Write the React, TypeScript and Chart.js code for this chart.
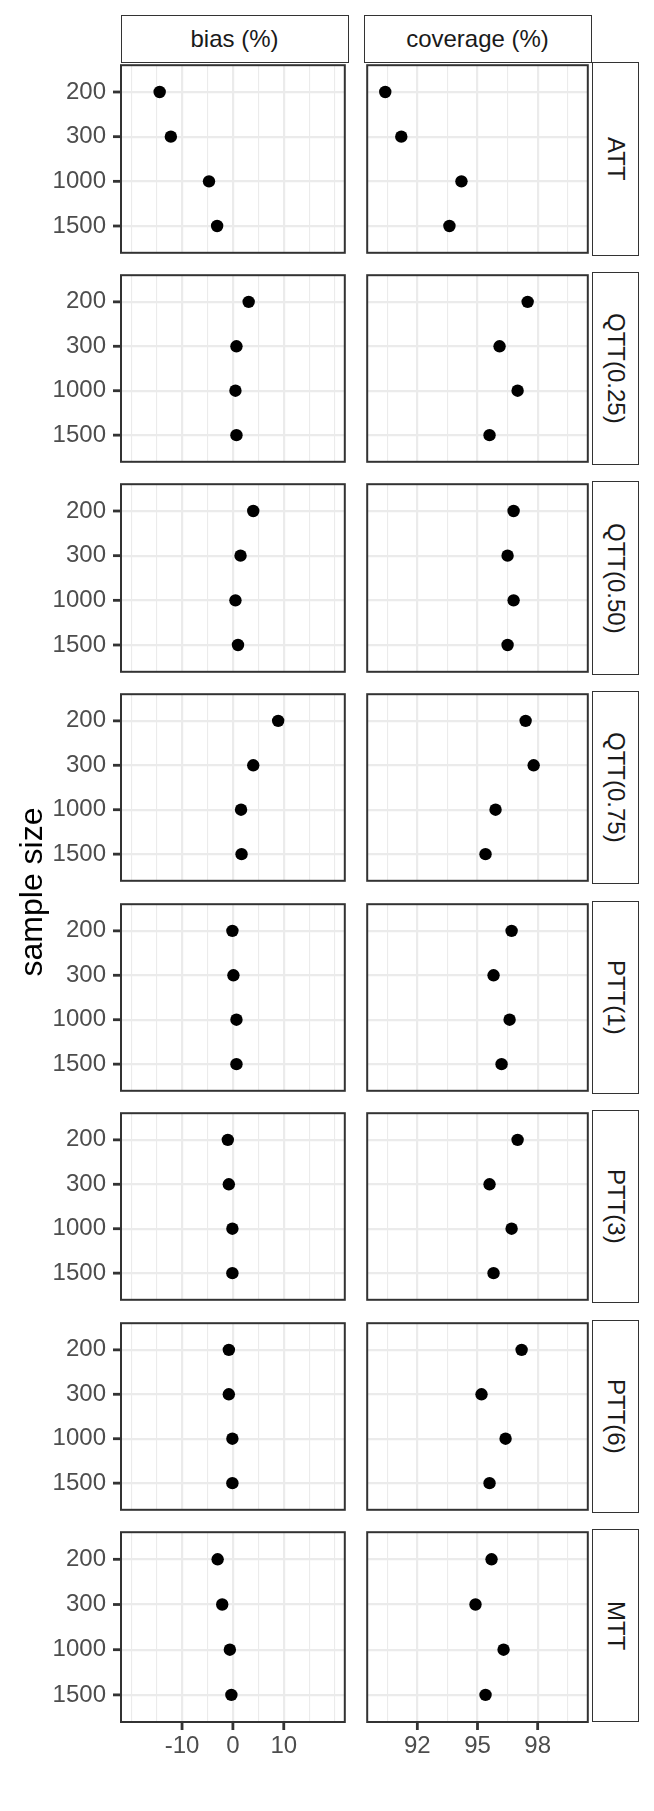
import React, { useEffect, useRef } from 'react';
import { Chart, registerables } from 'chart.js';

Chart.register(...registerables);

// ---------- data ----------
const sampleSizes = ['200', '300', '1000', '1500'];
const estimands = ['ATT', 'QTT(0.25)', 'QTT(0.50)', 'QTT(0.75)', 'PTT(1)', 'PTT(3)', 'PTT(6)', 'MTT'];
const metrics = ['bias (%)', 'coverage (%)'];

// bias (%) per estimand, in the order of sampleSizes
const biasATT = [-14.4, -12.2, -4.7, -3.1];
const biasQTT25 = [3.1, 0.7, 0.5, 0.7];
const biasQTT50 = [4.0, 1.5, 0.5, 1.0];
const biasQTT75 = [8.9, 4.0, 1.6, 1.7];
const biasPTT1 = [-0.1, 0.1, 0.7, 0.7];
const biasPTT3 = [-1.0, -0.8, -0.1, -0.1];
const biasPTT6 = [-0.8, -0.8, -0.1, -0.1];
const biasMTT = [-3.0, -2.1, -0.6, -0.3];

// coverage (%) per estimand, in the order of sampleSizes
const covATT = [90.4, 91.2, 94.2, 93.6];
const covQTT25 = [97.5, 96.1, 97.0, 95.6];
const covQTT50 = [96.8, 96.5, 96.8, 96.5];
const covQTT75 = [97.4, 97.8, 95.9, 95.4];
const covPTT1 = [96.7, 95.8, 96.6, 96.2];
const covPTT3 = [97.0, 95.6, 96.7, 95.8];
const covPTT6 = [97.2, 95.2, 96.4, 95.6];
const covMTT = [95.7, 94.9, 96.3, 95.4];

const biasValues = [biasATT, biasQTT25, biasQTT50, biasQTT75, biasPTT1, biasPTT3, biasPTT6, biasMTT];
const coverageValues = [covATT, covQTT25, covQTT50, covQTT75, covPTT1, covPTT3, covPTT6, covMTT];

// axis ticks
const biasGridTicks = [-20, -15, -10, -5, 0, 5, 10, 15, 20];
const biasTickLabels = [-10, 0, 10];
const coverageGridTicks = [90.5, 92, 93.5, 95, 96.5, 98, 99.5];
const coverageTickLabels = [92, 95, 98];
const biasLimits = [-22, 22];
const coverageLimits = [89.5, 100.5];

// ---------- layout ----------
const FONT = '"Liberation Sans", Arial, Helvetica, sans-serif';
const PANEL_LEFT = [121, 364];
const PANEL_W = 227;
const Y_AXIS_W = 121;
const X_AXIS_H = 50;
const PAD = 3;
const TICK_LEN = 8;
const rowTop = (r: number) => Math.round(62.3 + r * 209.57);
const rowBottom = (r: number) => Math.round(256 + r * 209.43);

function makeFramePlugin(showY: boolean, showX: boolean, xMajor: number[]) {
  return {
    id: 'panelFrame',
    afterDraw(chart: any) {
      const { ctx, chartArea, scales } = chart;
      const { left, top, right, bottom } = chartArea;
      ctx.save();
      ctx.strokeStyle = '#333333';
      ctx.lineWidth = 2.8;
      if (showY) {
        sampleSizes.forEach((_, i) => {
          const y = scales.y.getPixelForValue(i + 1);
          ctx.beginPath();
          ctx.moveTo(left - TICK_LEN, y);
          ctx.lineTo(left, y);
          ctx.stroke();
        });
      }
      if (showX) {
        xMajor.forEach((v) => {
          const x = scales.x.getPixelForValue(v);
          ctx.beginPath();
          ctx.moveTo(x, bottom);
          ctx.lineTo(x, bottom + TICK_LEN);
          ctx.stroke();
        });
      }
      ctx.lineWidth = 2;
      ctx.strokeRect(left, top, right - left, bottom - top);
      ctx.restore();
    },
  };
}

function Panel({ row, col }: { row: number; col: number }) {
  const ref = useRef<HTMLCanvasElement | null>(null);
  const isLeft = col === 0;
  const isBottom = row === estimands.length - 1;
  const top = rowTop(row);
  const h = rowBottom(row) - top;
  const canvasLeft = isLeft ? 0 : PANEL_LEFT[col] - PAD;
  const canvasTop = top - PAD;
  const canvasW = (isLeft ? Y_AXIS_W : PAD) + PANEL_W + PAD;
  const canvasH = PAD + h + (isBottom ? X_AXIS_H : PAD);

  useEffect(() => {
    const values = isLeft ? biasValues[row] : coverageValues[row];
    const gridTicks = isLeft ? biasGridTicks : coverageGridTicks;
    const labelled = isLeft ? biasTickLabels : coverageTickLabels;
    const [xmin, xmax] = isLeft ? biasLimits : coverageLimits;
    const isMajor = (v: any) => labelled.includes(v);

    const chart = new Chart(ref.current as HTMLCanvasElement, {
      type: 'scatter',
      data: {
        datasets: [
          {
            data: values.map((v, i) => ({ x: v, y: i + 1 })),
            pointRadius: 6.2,
            pointHoverRadius: 6.2,
            pointBackgroundColor: '#000000',
            pointBorderColor: '#000000',
            pointBorderWidth: 0,
            showLine: false,
          } as any,
        ],
      },
      options: {
        animation: false,
        responsive: false,
        maintainAspectRatio: false,
        devicePixelRatio: 1,
        events: [],
        layout: {
          padding: { left: isLeft ? 0 : PAD, top: PAD, right: PAD, bottom: isBottom ? 0 : PAD },
        },
        plugins: { legend: { display: false }, tooltip: { enabled: false }, title: { display: false } },
        scales: {
          x: {
            type: 'linear',
            position: 'bottom',
            min: xmin,
            max: xmax,
            afterBuildTicks: (s: any) => {
              s.ticks = gridTicks.map((v) => ({ value: v }));
            },
            afterFit: (s: any) => {
              s.height = isBottom ? X_AXIS_H : 0;
              s.paddingLeft = 0;
              s.paddingRight = 0;
            },
            border: { display: false },
            grid: {
              color: '#EBEBEB',
              lineWidth: (ctx: any) => (isMajor(ctx.tick && ctx.tick.value) ? 2.2 : 1.1),
              drawTicks: isBottom,
              tickLength: TICK_LEN,
              tickWidth: 0,
              tickColor: 'rgba(0,0,0,0)',
            },
            ticks: {
              display: isBottom,
              autoSkip: false,
              maxRotation: 0,
              minRotation: 0,
              padding: 2,
              color: '#4D4D4D',
              font: { family: FONT, size: 24 },
              callback: (v: any) => (isMajor(v) ? String(v) : ''),
            },
          },
          y: {
            type: 'linear',
            position: 'left',
            min: 0.4,
            max: 4.6,
            reverse: true,
            afterBuildTicks: (s: any) => {
              s.ticks = sampleSizes.map((_, i) => ({ value: i + 1 }));
            },
            afterFit: (s: any) => {
              s.width = isLeft ? Y_AXIS_W : 0;
              s.paddingTop = 0;
              s.paddingBottom = 0;
            },
            border: { display: false },
            grid: {
              color: '#EBEBEB',
              lineWidth: 2.2,
              drawTicks: isLeft,
              tickLength: TICK_LEN,
              tickWidth: 0,
              tickColor: 'rgba(0,0,0,0)',
            },
            ticks: {
              display: isLeft,
              autoSkip: false,
              padding: 7,
              color: '#4D4D4D',
              font: { family: FONT, size: 24 },
              callback: (v: any) => sampleSizes[Math.round(v) - 1] ?? '',
            },
          },
        },
      } as any,
      plugins: [makeFramePlugin(isLeft, isBottom, labelled)],
    });
    return () => chart.destroy();
  }, [row, col]);

  return (
    <canvas
      ref={ref}
      width={canvasW}
      height={canvasH}
      style={{ position: 'absolute', left: canvasLeft, top: canvasTop, width: canvasW, height: canvasH }}
    />
  );
}

const stripBase: React.CSSProperties = {
  position: 'absolute',
  boxSizing: 'border-box',
  border: '1.5px solid #333333',
  background: '#ffffff',
  color: '#1A1A1A',
  fontFamily: FONT,
  fontSize: 24,
  display: 'flex',
  alignItems: 'center',
  justifyContent: 'center',
  whiteSpace: 'nowrap',
};

export default function App() {
  const rows = estimands.map((_, r) => r);
  return (
    <div
      style={{
        position: 'absolute',
        left: 0,
        top: 0,
        width: 654,
        height: 1811,
        background: '#ffffff',
        overflow: 'hidden',
      }}
    >
      {metrics.map((m, c) => (
        <div
          key={m}
          style={{ ...stripBase, left: PANEL_LEFT[c] - 0.5, top: 15, width: PANEL_W + 1, height: 48 }}
        >
          {m}
        </div>
      ))}
      {rows.map((r) => (
        <div
          key={estimands[r]}
          style={{
            ...stripBase,
            left: 592,
            top: rowTop(r),
            width: 47,
            height: rowBottom(r) - rowTop(r),
            writingMode: 'vertical-rl',
          }}
        >
          {estimands[r]}
        </div>
      ))}
      {rows.map((r) =>
        [0, 1].map((c) => <Panel key={`${r}-${c}`} row={r} col={c} />)
      )}
      <div
        style={{
          position: 'absolute',
          left: 31 - 150,
          top: 892 - 20,
          width: 300,
          height: 40,
          lineHeight: '40px',
          textAlign: 'center',
          transform: 'rotate(-90deg)',
          fontFamily: FONT,
          fontSize: 32,
          color: '#000000',
          whiteSpace: 'nowrap',
        }}
      >
        sample size
      </div>
    </div>
  );
}
